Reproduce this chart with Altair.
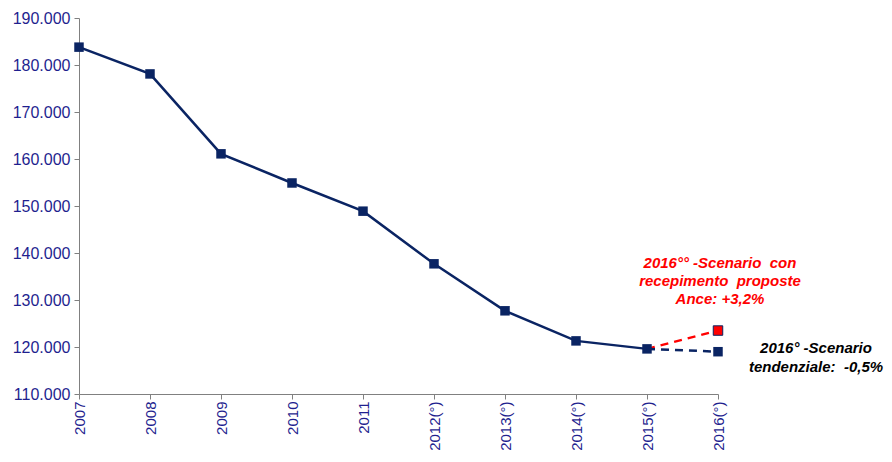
import altair as alt
import pandas as pd

years = ["2007", "2008", "2009", "2010", "2011", "2012(°)", "2013(°)", "2014(°)", "2015(°)", "2016(°)"]
history = [183800, 178100, 161100, 154900, 148900, 137700, 127700, 121300, 119600]
scenario_ance = [119600, 123500]
scenario_trend = [119600, 119000]
scenario_years = ["2015(°)", "2016(°)"]

ance_label = ["2016°° -Scenario\u00a0 con", "recepimento\u00a0 proposte", "Ance: +3,2%"]
trend_label = ["2016° -Scenario", "tendenziale:\u00a0 -0,5%"]

NAVY = "#0a2463"
RED = "#ff0000"
LABEL = "#1f1f8f"

hist_df = pd.DataFrame({"year": years[:len(history)], "value": history})
ance_df = pd.DataFrame({"year": scenario_years, "value": scenario_ance})
trend_df = pd.DataFrame({"year": scenario_years, "value": scenario_trend})

xenc = alt.X("year:N", sort=years, scale=alt.Scale(domain=years, type="point", padding=0),
             axis=alt.Axis(title=None, labelAngle=-90, labelFont="Liberation Sans", labelFontSize=15,
                           labelColor=LABEL, domainColor="#808080", tickColor="#808080",
                           tickSize=5, labelPadding=2, grid=False, labelBaseline="middle",
                           labelAlign="right"))
yenc = alt.Y("value:Q", scale=alt.Scale(domain=[110000, 190000], nice=False, zero=False),
             axis=alt.Axis(title=None, values=list(range(110000, 190001, 10000)),
                           labelExpr="replace(format(datum.value, ',d'), ',', '.')",
                           labelFont="Liberation Sans", labelFontSize=16, labelColor=LABEL,
                           domainColor="#808080", tickColor="#808080", tickSize=5,
                           labelPadding=4, grid=False))

hist_line = alt.Chart(hist_df).mark_line(color=NAVY, strokeWidth=2.5).encode(x=xenc, y=yenc)
ance_line = alt.Chart(ance_df).mark_line(color=RED, strokeWidth=2.5, strokeDash=[8, 6]).encode(x=xenc, y=yenc)
trend_line = alt.Chart(trend_df).mark_line(color=NAVY, strokeWidth=2.5, strokeDash=[8, 6]).encode(x=xenc, y=yenc)

hist_pts = alt.Chart(hist_df).mark_square(color=NAVY, size=90, opacity=1).encode(x=xenc, y=yenc)
ance_pt = alt.Chart(ance_df.iloc[[1]]).mark_square(fill=RED, stroke=NAVY, strokeWidth=1, size=90, opacity=1).encode(x=xenc, y=yenc)
trend_pt = alt.Chart(trend_df.iloc[[1]]).mark_square(color=NAVY, size=90, opacity=1).encode(x=xenc, y=yenc)

ance_text = alt.Chart(pd.DataFrame({"t": [ance_label]})).mark_text(
    color=RED, font="Liberation Sans", fontSize=15, fontWeight="bold", fontStyle="italic",
    align="center", baseline="top", lineHeight=18
).encode(x=alt.value(641), y=alt.value(238), text="t")

trend_text = alt.Chart(pd.DataFrame({"t": [trend_label]})).mark_text(
    color="black", font="Liberation Sans", fontSize=15, fontWeight="bold", fontStyle="italic",
    align="center", baseline="top", lineHeight=19
).encode(x=alt.value(737), y=alt.value(323), text="t")

chart = alt.layer(hist_line, ance_line, trend_line, hist_pts, ance_pt, trend_pt, ance_text, trend_text).properties(
    width=639, height=376,
    autosize=alt.AutoSizeParams(type="none"),
    padding={"left": 71, "top": 10, "right": 166, "bottom": 60},
    background="white",
).configure_view(stroke=None)

chart.save("out.html", embed_options={"renderer": "svg", "actions": False})
